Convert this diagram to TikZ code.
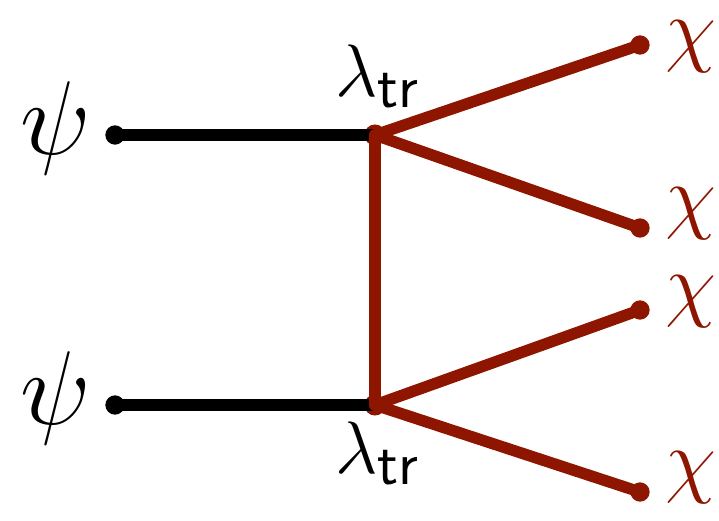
\documentclass[tikz,border=0pt]{standalone}
\usepackage{xcolor}
\usepackage{tikz}
\usetikzlibrary{positioning}
\definecolor{darkred}{HTML}{8E1600}

\tikzset{
    prop/.style={line width=6.5pt, line cap=round, line join=round},
    blob/.style={circle, fill, inner sep=0pt, minimum size=11pt},
    vtx/.style={circle, fill=darkred, inner sep=0pt, minimum size=12pt},
    lab/.style={font=\Huge, inner sep=0pt}
}

\begin{document}
\begin{tikzpicture}[x=0.02cm, y=-0.02cm]
        \useasboundingbox (0,0) rectangle (719,520);
        % vertices
        \node[vtx] (v1) at (375,135) {};
        \node[vtx] (v2) at (375,405) {};
        % free ends
        \node[blob] (p1) at (115,135) {};
        \node[blob] (p2) at (115,405) {};
        \node[blob, darkred] (c1) at (640,45) {};
        \node[blob, darkred] (c2) at (640,228) {};
        \node[blob, darkred] (c3) at (640,310) {};
        \node[blob, darkred] (c4) at (640,492) {};
        % lines
        \draw[prop] (p1.center) -- (v1.center);
        \draw[prop] (p2.center) -- (v2.center);
        \draw[prop, darkred] (v1.center) -- (v2.center);
        \draw[prop, darkred] (v1.center) -- (c1.center);
        \draw[prop, darkred] (v1.center) -- (c2.center);
        \draw[prop, darkred] (v2.center) -- (c3.center);
        \draw[prop, darkred] (v2.center) -- (c4.center);
        % labels
        \node[lab] (psi1) at (56,128) {\scalebox{2.4}{$\psi$}};
        \node[lab] (psi2) at (56,398) {\scalebox{2.4}{$\psi$}};
        \node[lab] (l1) at (378,76) {\scalebox{1.7}{$\lambda_{\mathsf{tr}}$}};
        \node[lab] (l2) at (378,453) {\scalebox{1.7}{$\lambda_{\mathsf{tr}}$}};
        \node[lab, darkred] (x1) at (691,47) {\scalebox{1.9}{$\chi$}};
        \node[lab, darkred] (x2) at (691,214) {\scalebox{1.9}{$\chi$}};
        \node[lab, darkred] (x3) at (691,302) {\scalebox{1.9}{$\chi$}};
        \node[lab, darkred] (x4) at (691,478) {\scalebox{1.9}{$\chi$}};
    \end{tikzpicture}
\end{document}
